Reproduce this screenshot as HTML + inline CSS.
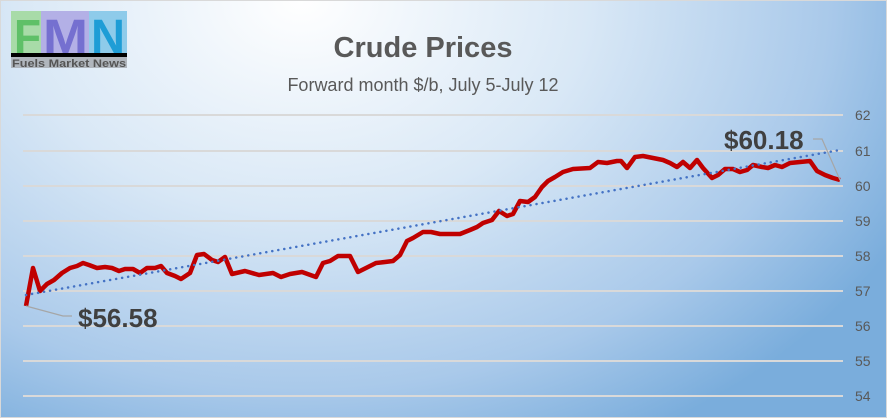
<!DOCTYPE html>
<html><head><meta charset="utf-8"><style>
html,body{margin:0;padding:0}
body{width:887px;height:418px;overflow:hidden;font-family:"Liberation Sans",sans-serif}
.bg{position:absolute;left:0;top:0;width:887px;height:418px;box-sizing:border-box;border:1px solid #d9d9d9;
background:radial-gradient(ellipse 680px 500px at 300px 0px,#ffffff 0%,#d9e8f6 42%,#a9c9ea 78%,#7aaddc 100%);}
</style></head><body>
<div class="bg"></div>
<svg width="887" height="418" style="position:absolute;left:0;top:0" font-family="Liberation Sans, sans-serif">
<!-- logo -->
<rect x="11" y="11" width="30" height="42" fill="#a8dba8"/>
<rect x="41" y="11" width="48" height="42" fill="#b3b0e6"/>
<rect x="89" y="11" width="38" height="42" fill="#8ecbea"/>
<text x="14" y="53" font-size="48" font-weight="bold" fill="#5fc068" textLength="27" lengthAdjust="spacingAndGlyphs">F</text>
<text x="43" y="53" font-size="48" font-weight="bold" fill="#7570d0" textLength="45" lengthAdjust="spacingAndGlyphs">M</text>
<text x="91" y="53" font-size="48" font-weight="bold" fill="#1e9dd6" textLength="34" lengthAdjust="spacingAndGlyphs">N</text>
<rect x="11" y="53" width="116" height="4" fill="#000"/>
<rect x="11" y="57" width="116" height="11" fill="#b0b6bd"/>
<text x="12" y="67" font-size="11" font-weight="bold" fill="#555" textLength="114" lengthAdjust="spacingAndGlyphs">Fuels Market News</text>
<!-- titles -->
<text x="423" y="57" text-anchor="middle" font-size="29" font-weight="bold" fill="#595959">Crude Prices</text>
<text x="423" y="91" text-anchor="middle" font-size="18" fill="#595959">Forward month $/b, July 5-July 12</text>
<!-- grid -->
<g stroke="#d9d9d9" stroke-width="2">
<line x1="23" x2="843" y1="115" y2="115"/><line x1="23" x2="843" y1="151" y2="151"/>
<line x1="23" x2="843" y1="186" y2="186"/><line x1="23" x2="843" y1="221" y2="221"/>
<line x1="23" x2="843" y1="256" y2="256"/><line x1="23" x2="843" y1="291" y2="291"/>
<line x1="23" x2="843" y1="326" y2="326"/><line x1="23" x2="843" y1="361" y2="361"/>
<line x1="23" x2="843" y1="396" y2="396"/>
</g>
<g font-size="14" fill="#595959">
<text x="855" y="120">62</text><text x="855" y="156">61</text><text x="855" y="191">60</text>
<text x="855" y="226">59</text><text x="855" y="261">58</text><text x="855" y="296">57</text>
<text x="855" y="331">56</text><text x="855" y="366">55</text><text x="855" y="401">54</text>
</g>
<!-- data -->
<polyline fill="none" stroke="#c00000" stroke-width="4.5" stroke-linejoin="round" points="26,306 33,268 40,291 47,284 54,280 62,273 70,268 77,266 83,263 89,265 97,268 105,267 112,268 119,271 125,269 133,269 140,273 147,268 155,268 161,266 167,273 175,276 181,279 190,273 197,255 204,254 212,260 218,262 225,257 232,274 245,271 259,275 273,273 281,277 290,274 302,272 316,277 323,263 330,261 338,256 350,256 358,272 366,268 376,263 385,262 393,261 400,255 407,241 413,238 423,232 431,232 440,234 450,234 460,234 470,230 477,227 483,223 492,220 499,211 507,216 513,214 520,201 528,202 535,197 542,187 548,181 555,177 563,172 573,169 590,168 598,162 607,163 617,161 621,161 627,168 635,157 643,156 653,158 663,160 670,163 677,167 683,162 690,168 697,160 703,168 712,178 718,175 725,169 733,169 740,172 747,170 753,165 762,167 768,168 775,165 782,167 790,163 800,162 810,161 817,171 825,175 833,178 840,180"/>
<line x1="26" y1="295" x2="840" y2="150" stroke="#4472c4" stroke-width="2.5" stroke-dasharray="0.1 6" stroke-linecap="round"/>
<!-- labels -->
<polyline fill="none" stroke="#a6a6a6" stroke-width="1.2" points="26,306 63,316 72,316"/>
<polyline fill="none" stroke="#a6a6a6" stroke-width="1.2" points="813,139 822,139 840,180"/>
<text x="78" y="327" font-size="26" font-weight="bold" fill="#404040">$56.58</text>
<text x="724" y="149" font-size="26" font-weight="bold" fill="#404040">$60.18</text>
</svg>
</body></html>
